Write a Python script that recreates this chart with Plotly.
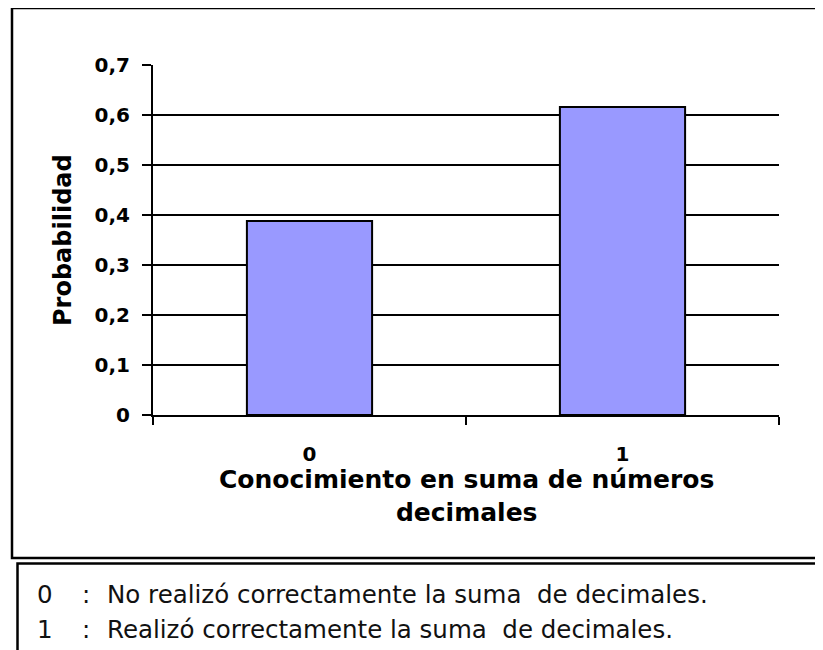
import plotly.graph_objects as go

# data
categories = ["0", "1"]
probabilities = [0.388, 0.616]
y_ticks = [0, 0.1, 0.2, 0.3, 0.4, 0.5, 0.6, 0.7]
y_tick_labels = ["0", "0,1", "0,2", "0,3", "0,4", "0,5", "0,6", "0,7"]
codes = ["0", "1"]
descriptions = [
    "No realizó correctamente la suma  de decimales.",
    "Realizó correctamente la suma  de decimales.",
]

W, H = 823, 650
OFF = 8  # page body margin shifts the figure on screen
# plot area in screen pixels
X0, X1, Y0, Y1 = 153, 779, 65, 415
L, T = X0 - OFF, Y0 - OFF
R, B = W - (X1 - OFF), H - (Y1 - OFF)
PW, PH = X1 - X0, Y1 - Y0


# screen pixel -> paper helpers for frame and notes
def px(x):
    return (x - X0) / PW


def py(y):
    return (Y1 - y) / PH


FONT = "DejaVu Sans"

fig = go.Figure()
fig.add_trace(go.Bar(
    x=categories,
    y=probabilities,
    marker=dict(color="#9999FF", line=dict(color="black", width=2)),
    showlegend=False,
))

fig.update_layout(
    width=W, height=H,
    margin=dict(l=L, r=R, t=T, b=B),
    paper_bgcolor="white",
    plot_bgcolor="white",
    bargap=0.6,
    separators=", ",
    font=dict(family=FONT, color="black"),
    xaxis=dict(
        type="category",
        tickson="boundaries",
        ticks="outside", ticklen=8, tickwidth=2, tickcolor="black",
        showline=True, linewidth=2, linecolor="black",
        showgrid=False,
        tickfont=dict(family=FONT, size=20, weight="bold"),
        ticklabelstandoff=20,
        range=[-0.5, 1.5],
    ),
    yaxis=dict(
        range=[0, 0.7001],
        tickmode="array", tickvals=y_ticks, ticktext=y_tick_labels,
        ticks="outside", ticklen=9, tickwidth=2, tickcolor="black",
        showline=True, linewidth=2, linecolor="black",
        showgrid=True, gridcolor="black", gridwidth=2,
        zeroline=False,
        tickfont=dict(family=FONT, size=20, weight="bold"),
        ticklabelstandoff=8,
    ),
)

# axis titles
fig.add_annotation(
    text="Conocimiento en suma de números<br>decimales",
    xref="paper", yref="paper", x=0.5, y=py(496),
    xanchor="center", yanchor="middle", showarrow=False,
    font=dict(family=FONT, size=25, weight="bold"),
)
fig.add_annotation(
    text="Probabilidad", textangle=-90,
    xref="paper", yref="paper", x=px(63), y=0.5,
    xanchor="center", yanchor="middle", showarrow=False,
    font=dict(family=FONT, size=24, weight="bold"),
)

# frames
fig.add_shape(type="rect", xref="paper", yref="paper",
              x0=px(12), x1=px(860), y0=py(558), y1=py(8),
              line=dict(color="black", width=2.5))
fig.add_shape(type="rect", xref="paper", yref="paper",
              x0=px(17.5), x1=px(860), y0=py(563.5), y1=py(700),
              line=dict(color="black", width=2.5))

# notes under the chart
for i, (c, d) in enumerate(zip(codes, descriptions)):
    yc = py(594 + 35 * i)
    note_font = dict(family=FONT, size=24.5, color="#111111")
    fig.add_annotation(text=c, xref="paper", yref="paper", x=px(35), y=yc,
                       xanchor="left", yanchor="middle", showarrow=False, font=note_font)
    fig.add_annotation(text=":", xref="paper", yref="paper", x=px(80), y=yc,
                       xanchor="left", yanchor="middle", showarrow=False, font=note_font)
    fig.add_annotation(text=d, xref="paper", yref="paper", x=px(105), y=yc,
                       xanchor="left", yanchor="middle", showarrow=False, font=note_font)

fig.write_html("out.html")
